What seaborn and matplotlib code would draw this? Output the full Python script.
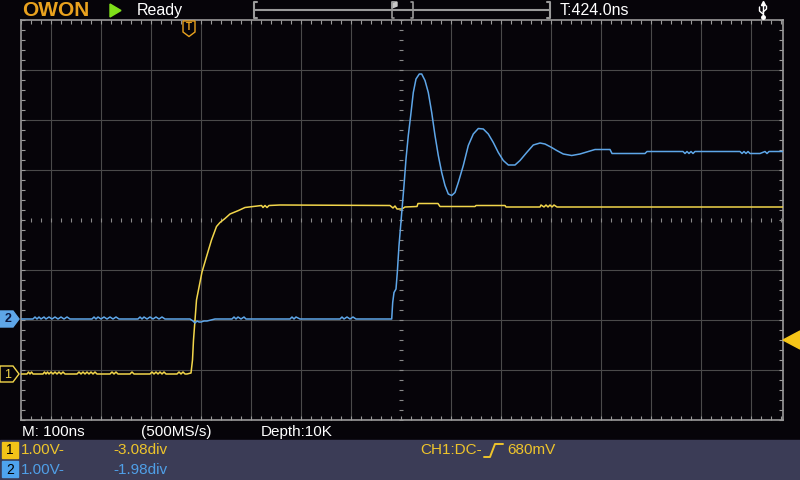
import numpy as np
import pandas as pd
import matplotlib
matplotlib.use("Agg")
import matplotlib.pyplot as plt
from matplotlib.patches import Polygon, Rectangle
from matplotlib.ticker import MultipleLocator
import seaborn as sns

# ---- screen settings ----
ns_per_div = 100
trig_pos_ns = 424.0
volts_per_div = [1.00, 1.00]
ch_offset_div = [-3.08, -1.98]
trig_level_v = 0.68

# ---- CH1 (yellow), time in ns from trigger, volts ----
ch1_t = [
    -336, -324, -321, -318, -315, -312,
    -292, -289, -286, -283, -280, -276, -272, -268, -264, -260, -256, -252, -248, -244,
    -224, -220, -216, -212, -208, -204, -200, -196, -192, -188, -184, -180,
    -158, -154, -150, -146, -142, -138,
    -118, -114, -110, -106,
    -78, -74, -70, -66, -62, -58, -54, -50, -46, -42,
    -24, -20, -16, -12, -8, -4,
    4, 7, 9, 12, 15, 26, 39, 45, 55, 62, 72, 82, 99, 112, 145,
    148, 152, 156, 160, 182, 402,
    408, 412, 416, 426, 432, 456, 458, 498, 502, 572, 574, 632, 634, 702,
    704, 710, 714, 718, 722, 726, 730, 736, 742, 1188,
]
ch1_v = [
    0.00, 0.00, 0.04, 0.00, 0.04, 0.00,
    0.00, 0.04, 0.00, 0.04, 0.00, 0.04, 0.00, 0.04, 0.00, 0.04, 0.00, 0.04, 0.00, 0.00,
    0.00, 0.04, 0.00, 0.04, 0.00, 0.04, 0.00, 0.04, 0.00, 0.04, 0.00, 0.00,
    0.00, 0.04, 0.00, 0.04, 0.00, 0.00,
    0.00, 0.04, 0.00, 0.00,
    0.00, 0.04, 0.00, 0.04, 0.00, 0.04, 0.00, 0.04, 0.00, 0.00,
    0.00, 0.04, 0.00, 0.04, 0.00, 0.00,
    0.02, 0.28, 0.68, 1.08, 1.48, 2.04, 2.48, 2.68, 2.95, 3.03, 3.11, 3.20, 3.27, 3.33, 3.37,
    3.33, 3.37, 3.33, 3.37, 3.38, 3.37,
    3.32, 3.36, 3.30, 3.30, 3.34, 3.35, 3.41, 3.41, 3.35, 3.35, 3.37, 3.37, 3.34, 3.34,
    3.38, 3.34, 3.38, 3.34, 3.38, 3.34, 3.38, 3.34, 3.34, 3.34,
]

# ---- CH2 (blue) ----
ch2_t = [
    -336, -312, -308, -304, -300, -296, -290, -286, -280, -274, -268, -262, -256, -250, -244, -238,
    -194, -190, -186, -182, -176, -170, -164, -158, -152, -146, -140,
    -102, -98, -94, -90, -84, -78, -72, -66, -60, -54, -48, -44,
    2, 8, 12, 16, 20, 24, 30, 36, 44, 52,
    86, 90, 94, 98, 104, 110, 114, 118,
    202, 206, 210, 214, 222,
    302, 306, 310, 316, 322, 328, 334, 342,
    405.4, 407.4, 410, 414, 416.6, 420, 423.4, 426, 430, 434, 438.6, 443.4, 448.6, 454, 460.6, 465.4,
    472, 478.6, 485.4, 492, 498.6, 505.4, 512, 518.6, 525.4, 532, 538.6, 548.6, 558.6, 568.6, 578.6, 588.6,
    598.6, 608.6, 618.6, 628.6, 638.6, 652, 662, 675.4, 688.6, 702, 712, 725.4, 735.4, 748.6, 765.4, 782,
    798.6, 812, 842, 846, 912, 916, 988, 992, 996, 1000, 1004, 1008, 1012, 1048,
    1102, 1106, 1110, 1114, 1118, 1122, 1142, 1152, 1156, 1160, 1188,
]
ch2_v = [
    0, 0, 0.04, 0, 0.04, 0, 0.04, 0, 0.04, 0, 0.04, 0, 0.04, 0, 0.04, 0,
    0, 0.04, 0, 0.04, 0, 0.04, 0, 0.04, 0, 0.04, 0,
    0, 0.04, 0, 0.04, 0, 0.04, 0, 0.04, 0, 0.04, 0, 0,
    0, -0.04, -0.08, -0.04, -0.06, -0.06, -0.04, -0.04, -0.02, 0,
    0, 0.04, 0, 0.04, 0, 0.04, 0, 0,
    0, 0.04, 0, 0.04, 0,
    0, 0.04, 0, 0.04, 0, 0.04, 0, 0,
    0.00, 0.33, 0.53, 0.60, 0.93, 1.47, 1.87, 2.20, 2.67, 3.20, 3.67, 4.07, 4.53, 4.80, 4.90, 4.90,
    4.77, 4.53, 4.13, 3.67, 3.27, 2.93, 2.67, 2.50, 2.47, 2.53, 2.73, 3.07, 3.47, 3.70, 3.81, 3.80,
    3.70, 3.53, 3.33, 3.17, 3.08, 3.08, 3.17, 3.33, 3.48, 3.52, 3.50, 3.43, 3.37, 3.30, 3.27, 3.30,
    3.35, 3.39, 3.39, 3.31, 3.31, 3.35, 3.35, 3.31, 3.35, 3.31, 3.35, 3.31, 3.35, 3.35,
    3.35, 3.31, 3.35, 3.31, 3.35, 3.31, 3.31, 3.35, 3.31, 3.35, 3.35,
]

BG = "#060409"
PANEL = "#3b3c56"
YEL = "#f2d64b"
BLU = "#5ea6e8"
YEL_TXT = "#eec42b"
BLU_TXT = "#4f9fe8"
FRAME = "#9a9a9a"
GRID = "#4a4a4a"
ORANGE = "#e9a21e"

frames = []
for name, t, v, vdiv, off in [("CH1", ch1_t, ch1_v, volts_per_div[0], ch_offset_div[0]),
                              ("CH2", ch2_t, ch2_v, volts_per_div[1], ch_offset_div[1])]:
    d = pd.DataFrame({"t": t, "v": v})
    d["x"] = (d["t"] - trig_pos_ns) / ns_per_div
    d["y"] = d["v"] / vdiv + off
    d["ch"] = name
    frames.append(d)
df = pd.concat(frames, ignore_index=True)

sns.set_theme(style="dark")
plt.rcParams["font.family"] = ["Liberation Sans", "DejaVu Sans"]

fig = plt.figure(figsize=(8, 4.8), dpi=100, facecolor=BG)
ax = fig.add_axes([21 / 800, 60 / 480, 762 / 800, 400 / 480])
ax.set_facecolor(BG)

# grid
for i in range(-7, 8):
    if i != 0:
        ax.axvline(i, color=GRID, lw=0.8, zorder=0)
for j in range(-3, 4):
    if j != 0:
        ax.axhline(j, color=GRID, lw=0.8, zorder=0)
cx = np.arange(-7.6, 7.65, 0.2)
cy = np.arange(-4, 4.01, 0.2)
ax.plot(cx, np.zeros_like(cx), ls="none", marker="|", ms=3, mew=0.8, color="#8a8a8a", zorder=1)
ax.plot(np.zeros_like(cy), cy, ls="none", marker="_", ms=3, mew=0.8, color="#8a8a8a", zorder=1)

sns.lineplot(data=df, x="x", y="y", hue="ch", palette={"CH1": YEL, "CH2": BLU},
             estimator=None, sort=False, lw=1.1, legend=False, ax=ax, zorder=3)

ax.set_xlim((21 - 401) / 50, (783 - 401) / 50)
ax.set_ylim(-4, 4)
ax.xaxis.set_major_locator(MultipleLocator(1))
ax.yaxis.set_major_locator(MultipleLocator(1))
ax.xaxis.set_minor_locator(MultipleLocator(0.2))
ax.yaxis.set_minor_locator(MultipleLocator(0.2))
ax.tick_params(which="both", direction="in", length=3, width=0.8, color=FRAME,
               top=True, right=True, bottom=True, left=True,
               labelbottom=False, labelleft=False)
ax.set_xlabel("")
ax.set_ylabel("")
ax.grid(False)
for s in ax.spines.values():
    s.set_color(FRAME)
    s.set_linewidth(1.2)

# overlay in screen pixels for the scope's status texts and markers
ov = fig.add_axes([0, 0, 1, 1], facecolor="none")
ov.set_xlim(0, 800)
ov.set_ylim(480, 0)
ov.axis("off")


def div_to_py(d):
    return 220 - 50 * d


def div_to_px(d):
    return 401 + 50 * d


ov.add_patch(Rectangle((0, 440), 800, 40, color=PANEL, zorder=0))

# top bar
ov.text(22, 10, "OWON", color=ORANGE, fontsize=15, fontweight="bold", va="center", ha="left")
ov.add_patch(Polygon([(110, 4), (110, 17), (121, 10.5)], closed=True, color="#7fe01a"))
ov.text(137, 10.5, "Ready", color="white", fontsize=11.5, va="center", ha="left")
ov.plot([255, 549], [10, 10], color=FRAME, lw=1.5)
ov.plot([257, 254, 254, 257], [2, 2, 18, 18], color=FRAME, lw=1.5)
ov.plot([547, 550, 550, 547], [2, 2, 18, 18], color=FRAME, lw=1.5)
ov.plot([394, 392, 392, 394], [2, 2, 18, 18], color=FRAME, lw=1.2)
ov.add_patch(Polygon([(392, 2), (397, 2), (397, 6), (392, 8)], closed=True, color="#c8c8c8"))
ov.plot([411, 413, 413, 411], [2, 2, 18, 18], color=FRAME, lw=1.2)
ov.text(560, 10.5, "T:424.0ns", color="white", fontsize=11.5, va="center", ha="left")
# usb symbol
ov.plot([763, 763], [4, 17], color="white", lw=1)
ov.plot([763, 759.5, 759.5], [14, 11, 7], color="white", lw=1)
ov.plot([763, 766.5, 766.5], [12, 9, 6], color="white", lw=1)
ov.plot([763], [17], marker="o", ms=2.5, color="white")
ov.plot([763], [3], marker="^", ms=3, color="white")

# trigger time marker
tx = div_to_px(-trig_pos_ns / ns_per_div)
ov.add_patch(Polygon([(tx - 6, 21), (tx + 6, 21), (tx + 6, 32), (tx, 36.5), (tx - 6, 32)],
                     closed=True, facecolor=BG, edgecolor=ORANGE, lw=1))
ov.text(tx, 27.5, "T", color=ORANGE, fontsize=7, fontweight="bold", ha="center", va="center")

# channel ground markers
for lab, off, col, filled in [("1", ch_offset_div[0], YEL, False), ("2", ch_offset_div[1], BLU, True)]:
    py = div_to_py(off)
    shape = [(0, py - 8), (13, py - 8), (19, py), (13, py + 8), (0, py + 8)]
    if filled:
        ov.add_patch(Polygon(shape, closed=True, facecolor=col, edgecolor=col, lw=1))
        ov.text(8, py + 0.5, lab, color="#0b1840", fontsize=9, fontweight="bold", ha="center", va="center")
    else:
        ov.add_patch(Polygon(shape, closed=True, facecolor=BG, edgecolor=col, lw=1))
        ov.text(8, py + 0.5, lab, color=col, fontsize=9, ha="center", va="center")

# trigger level marker
ty = div_to_py(trig_level_v / volts_per_div[0] + ch_offset_div[0])
ov.add_patch(Polygon([(783, ty), (800, ty - 9), (800, ty + 9)], closed=True, color="#f5c518"))

# bottom status texts
ov.text(22, 432, "M: 100ns", color="white", fontsize=11, va="center", ha="left")
ov.text(141, 432, "(500MS/s)", color="white", fontsize=11, va="center", ha="left")
ov.text(261, 432, "Depth:10K", color="white", fontsize=11, va="center", ha="left")

ov.add_patch(Rectangle((2, 442), 16, 16, color="#f2c318"))
ov.text(10, 450.5, "1", color="black", fontsize=10, ha="center", va="center")
ov.text(21, 450.5, "1.00V-", color=YEL_TXT, fontsize=11, va="center", ha="left")
ov.text(113, 450.5, "-3.08div", color=YEL_TXT, fontsize=11, va="center", ha="left")

ov.add_patch(Rectangle((2, 461), 16, 16, color="#4ea4ee"))
ov.text(10, 469.5, "2", color="black", fontsize=10, ha="center", va="center")
ov.text(21, 469.5, "1.00V-", color=BLU_TXT, fontsize=11, va="center", ha="left")
ov.text(113, 469.5, "-1.98div", color=BLU_TXT, fontsize=11, va="center", ha="left")

ov.text(420, 450.5, "CH1:DC-", color=YEL_TXT, fontsize=11, va="center", ha="left")
ov.plot([484, 490, 495, 503], [457, 457, 444, 444], color=YEL_TXT, lw=1.4)
ov.text(507, 450.5, "680mV", color=YEL_TXT, fontsize=11, va="center", ha="left")

fig.savefig("out.png", dpi=100, facecolor=BG)
